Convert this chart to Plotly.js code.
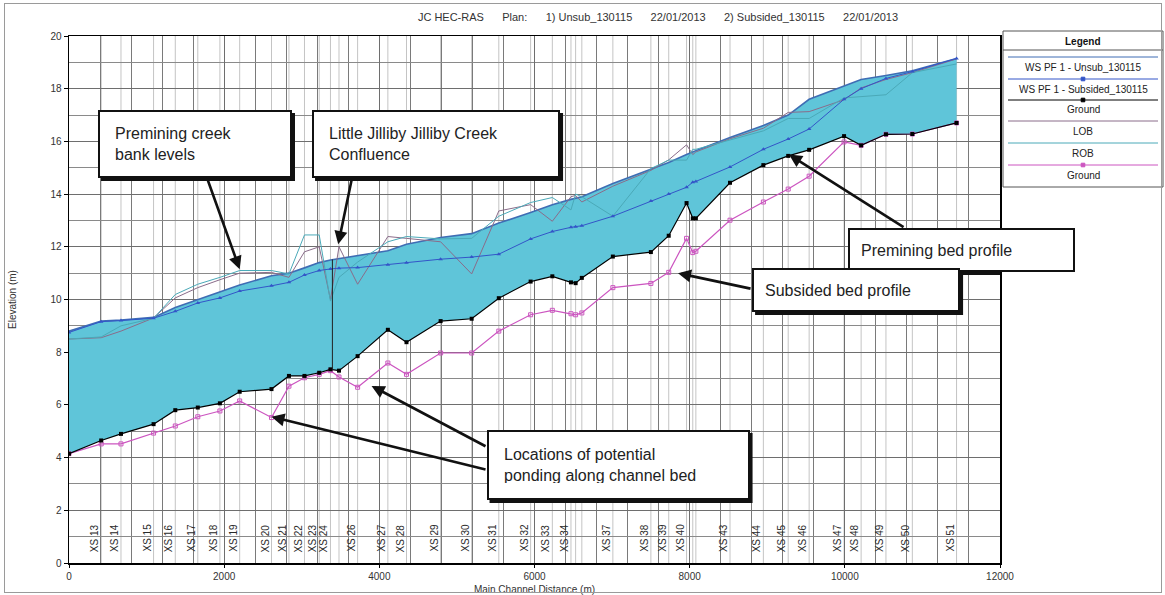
<!DOCTYPE html>
<html><head><meta charset="utf-8">
<script src="https://cdn.plot.ly/plotly-3.0.1.min.js"></script>
<style>
html,body{margin:0;padding:0;background:#fff;}
#chart{position:absolute;left:0;top:0;width:1165px;height:595px;}
#frame{position:absolute;left:4px;top:3px;width:1158px;height:590px;border:1px solid #9a9a9a;box-sizing:border-box;pointer-events:none;}
</style></head><body>
<div id="chart"></div>
<div id="frame"></div>
<script>
// ---------------- data ----------------
const xsNames = ['XS 12','XS 13','XS 14','XS 15','XS 16','XS 17','XS 18','XS 19','XS 20','XS 21',
  'XS 22','XS 23','XS 24','XS 25','XS 26','XS 27','XS 28','XS 29','XS 30','XS 31',
  'XS 32','XS 33','XS 34','XS 35','XS 36','XS 37','XS 38','XS 39','XS 40','XS 41',
  'XS 42','XS 43','XS 44','XS 45','XS 46','XS 47','XS 48','XS 49','XS 50','XS 51'];
const xsUnlabelled = ['XS 12','XS 25','XS 35','XS 36','XS 41','XS 42'];
const station = [0,415,670,1090,1370,1660,1945,2200,2610,2835,
  3035,3225,3370,3480,3720,4110,4350,4790,5190,5540,
  5950,6230,6470,6530,6610,7010,7500,7730,7960,8040,
  8080,8520,8950,9270,9540,9990,10210,10530,10870,11440];
const groundUnsub = [4.15,4.65,4.9,5.27,5.8,5.9,6.06,6.5,6.6,7.1,
  7.1,7.22,7.35,7.3,7.85,8.85,8.38,9.18,9.27,10.05,
  10.68,10.88,10.65,10.62,10.82,11.63,11.8,12.42,13.66,13.08,
  13.08,14.43,15.1,15.45,15.68,16.2,15.85,16.27,16.28,16.7];
const groundSub = [4.15,4.52,4.52,4.93,5.2,5.55,5.77,6.15,5.52,6.71,
  7.03,7.16,7.3,7.06,6.67,7.59,7.16,7.97,7.97,8.8,
  9.42,9.59,9.46,9.42,9.49,10.45,10.61,11.03,12.32,11.78,
  11.83,13.01,13.7,14.19,14.68,15.98,15.85,16.27,16.28,16.7];
const wsUnsub = [8.8,9.18,9.22,9.32,9.7,10.0,10.3,10.55,10.9,11.0,
  11.2,11.4,11.5,11.55,11.65,11.85,12.1,12.35,12.5,12.9,
  13.3,13.6,13.8,13.85,13.9,14.4,14.95,15.2,15.5,15.6,
  15.65,16.15,16.6,17.0,17.6,18.1,18.35,18.5,18.68,19.15];
const wsSub = [8.75,9.16,9.2,9.29,9.55,9.87,10.06,10.32,10.52,10.65,
  10.93,11.1,11.16,11.19,11.21,11.32,11.39,11.53,11.61,11.72,
  12.3,12.58,12.74,12.76,12.8,13.16,13.74,14.0,14.26,14.45,
  14.48,15.03,15.7,16.09,16.47,17.6,18.0,18.39,18.65,19.15];
const lob = [8.5,8.55,8.8,9.3,10.06,10.45,10.75,11.0,11.03,10.84,
  11.81,12.0,10.0,12.0,10.58,12.39,12.32,12.19,10.97,13.36,
  13.6,12.97,13.9,13.95,13.7,14.3,14.9,15.3,15.87,15.5,
  15.6,16.1,16.5,17.1,17.13,17.58,18.03,18.35,18.61,19.13];
const rob = [8.5,8.58,9.0,9.29,10.19,10.58,10.84,11.1,11.1,10.97,
  12.45,12.45,9.94,10.84,11.42,12.19,12.39,12.3,12.32,13.16,
  13.68,13.87,13.4,14.0,13.9,13.16,14.97,15.29,15.29,15.7,
  15.7,16.05,16.4,16.87,16.87,17.65,17.7,17.77,18.61,18.94];
const confluenceX = [3395, 3395];
const confluenceY = [7.33, 11.52];

const seriesNames = ['WS PF 1 - Unsub_130115','WS PF 1 - Subsided_130115','Ground','LOB','ROB','Ground'];
const xTickVals = [0,2000,4000,6000,8000,10000,12000];
const yTickVals = [0,2,4,6,8,10,12,14,16,18,20];
const titleParts = ['JC HEC-RAS','Plan:','1) Unsub_130115','22/01/2013','2) Subsided_130115','22/01/2013'];
const xTitle = 'Main Channel Distance (m)';
const yTitle = 'Elevation (m)';

// callouts: text, box centre (data units), box size (px), arrows [tailX, tailY, tipX, tipY]
const callouts = [
  {text:'Premining creek<br>bank levels', cx:1624, cy:15.9, w:194, h:68, arrows:[[1779,14.61,2200,11.15]]},
  {text:'Little Jilliby Jilliby Creek<br>Confluence', cx:4731, cy:15.9, w:248, h:68, arrows:[[3648,14.61,3470,12.1]]},
  {text:'Premining bed profile', cx:11498, cy:11.88, w:227, h:44, arrows:[[10776,12.71,9280,15.5]]},
  {text:'Subsided bed profile', cx:10145, cy:10.36, w:208, h:44, arrows:[[8804,10.4,7850,11.0]]},
  {text:'Locations of potential<br>ponding along channel bed', cx:7077, cy:3.72, w:263, h:70,
    arrows:[[5388,3.53,2610,5.55],[5388,4.4,3900,6.72]]}
];

// ---------------- style ----------------
const FONT = 'Liberation Sans, Arial, sans-serif';
const C = {fill:'#5fc5d9', wsU:'#3f6db4', wsS:'#3355c8', gU:'#000000', gS:'#cc55c0', lob:'#8a6c8a', rob:'#4aa9b8'};

const traces = [
  {x:station, y:groundUnsub, mode:'lines', line:{width:0,color:'rgba(0,0,0,0)'}, hoverinfo:'skip', showlegend:false},
  {x:station, y:wsUnsub, mode:'lines', fill:'tonexty', fillcolor:C.fill, line:{color:C.wsU,width:1.6}, name:seriesNames[0], showlegend:false},
  {x:station, y:lob, mode:'lines', line:{color:C.lob,width:1}, name:seriesNames[3], showlegend:false},
  {x:station, y:rob, mode:'lines', line:{color:C.rob,width:1}, name:seriesNames[4], showlegend:false},
  {x:station, y:wsSub, mode:'lines+markers', line:{color:C.wsS,width:1}, marker:{symbol:'triangle-up',size:4,color:C.wsS}, name:seriesNames[1], showlegend:false},
  {x:station, y:groundSub, mode:'lines+markers', line:{color:C.gS,width:1.2}, marker:{symbol:'square-open',size:4,color:C.gS}, name:seriesNames[5], showlegend:false},
  {x:station, y:groundUnsub, mode:'lines+markers', line:{color:C.gU,width:1.2}, marker:{symbol:'square',size:4,color:C.gU}, name:seriesNames[2], showlegend:false},
  {x:confluenceX, y:confluenceY, mode:'lines', line:{color:'#222',width:1}, hoverinfo:'skip', showlegend:false}
];

// plot area in px
const L=69, R=1000, T=36, B=563, W=1165, H=595;
const px2paperX = p => (p-L)/(R-L);
const px2paperY = p => (B-p)/(B-T);

const shapes = [];
const annotations = [];

// XS lines and labels
station.forEach((s,i)=>{
  if (i===0) return;
  shapes.push({type:'line', xref:'x', yref:'y', x0:s, x1:s, y0:0, y1:20, line:{color:'#c4c4c4',width:1}, layer:'below'});
  if (xsUnlabelled.indexOf(xsNames[i])<0){
    annotations.push({x:s, y:0.95, xref:'x', yref:'y', text:xsNames[i], showarrow:false, textangle:-90,
      xshift:-6, font:{family:FONT,size:10,color:'#2a2a2a'}});
  }
});

// callouts: arrows first, then shadow shape + text box
callouts.forEach(c=>{
  c.arrows.forEach(a=>{
    annotations.push({xref:'x', yref:'y', x:a[2], y:a[3], ax:a[0], ay:a[1], axref:'x', ayref:'y',
      text:' ', showarrow:true, arrowhead:2, arrowsize:1, arrowwidth:2.6, arrowcolor:'#111', standoff:0, startstandoff:0,
      font:{size:1}});
  });
  shapes.push({type:'rect', xref:'x', yref:'y', xsizemode:'pixel', ysizemode:'pixel', xanchor:c.cx, yanchor:c.cy,
    x0:-c.w/2+3, x1:c.w/2+3, y0:-c.h/2-3, y1:c.h/2-3, line:{width:0}, fillcolor:'#111', layer:'above'});
  const pad = c.h>50 ? 15 : 11;
  annotations.push({xref:'x', yref:'y', x:c.cx, y:c.cy, text:c.text, showarrow:false,
    width:c.w-2*pad-4, height:c.h-2*pad-4, borderpad:pad, borderwidth:2, bordercolor:'#111', bgcolor:'#fff',
    font:{family:FONT,size:16,color:'#222'}, align:'left', valign:'middle'});
});

// legend (HEC-RAS style)
const legLeft=1003, legRight=1163, legTop=31, legBottom=187;
shapes.push({type:'rect', xref:'paper', yref:'paper', x0:px2paperX(legLeft), x1:px2paperX(legRight), y0:px2paperY(legBottom), y1:px2paperY(legTop), line:{color:'#555',width:1}, fillcolor:'#fff'});
shapes.push({type:'line', xref:'paper', yref:'paper', x0:px2paperX(legLeft), x1:px2paperX(legRight), y0:px2paperY(50), y1:px2paperY(50), line:{color:'#555',width:1}});
const legCx = px2paperX((legLeft+legRight)/2);
annotations.push({xref:'paper', yref:'paper', x:legCx, y:px2paperY(41), xanchor:'center', yanchor:'middle',
  text:'<b>Legend</b>', showarrow:false, font:{family:FONT,size:10,color:'#111'}});
const legLineY = [57,79,100,121,143,165];
const legTextY = [67,89,110,131,153,175];
const legColors = [C.wsU, C.wsS, C.gU, C.lob, C.rob, C.gS];
const legMarker = [false, true, true, false, false, true];
seriesNames.forEach((n,i)=>{
  shapes.push({type:'line', xref:'paper', yref:'paper', x0:px2paperX(1008), x1:px2paperX(1158), y0:px2paperY(legLineY[i]), y1:px2paperY(legLineY[i]), line:{color:legColors[i],width:1}});
  if (legMarker[i]) shapes.push({type:'rect', xref:'paper', yref:'paper', xsizemode:'pixel', ysizemode:'pixel',
    xanchor:legCx, yanchor:px2paperY(legLineY[i]), x0:-1.8, x1:1.8, y0:-1.8, y1:1.8, line:{color:legColors[i],width:1}, fillcolor:legColors[i]});
  annotations.push({xref:'paper', yref:'paper', x:legCx, y:px2paperY(legTextY[i]), xanchor:'center', yanchor:'middle',
    text:n, showarrow:false, font:{family:FONT,size:10,color:'#222'}});
});

const nb = '\u00a0';
const titleText = titleParts.join(nb.repeat(6));

const layout = {
  width:W, height:H,
  margin:{l:L, r:W-R, t:T, b:H-B, pad:0},
  paper_bgcolor:'rgba(0,0,0,0)', plot_bgcolor:'#fff',
  font:{family:FONT, size:10, color:'#333'},
  title:{text:titleText, x:658/W, xanchor:'center', y:1-17/H, yanchor:'middle', yref:'container', xref:'container',
    font:{family:FONT,size:11,color:'#333'}},
  xaxis:{range:[0,12000], tickvals:xTickVals, ticktext:xTickVals.map(String), showgrid:true, gridcolor:'#6e6e6e', gridwidth:1,
    minor:{dtick:400, tick0:0, showgrid:true, gridcolor:'#7a7a7a', gridwidth:1, ticks:''},
    showline:true, mirror:true, linecolor:'#000', linewidth:1.5, ticks:'outside', ticklen:3, tickcolor:'#000',
    zeroline:false, tickfont:{family:FONT,size:10,color:'#333'},
    title:{text:xTitle, font:{family:FONT,size:10,color:'#333'}, standoff:6}},
  yaxis:{range:[0,20], tickvals:yTickVals, ticktext:yTickVals.map(String), showgrid:true, gridcolor:'#6e6e6e', gridwidth:1,
    minor:{dtick:1, tick0:0, showgrid:true, gridcolor:'#8a8a8a', gridwidth:1, ticks:''},
    showline:true, mirror:true, linecolor:'#000', linewidth:1.5, ticks:'outside', ticklen:4, tickcolor:'#000',
    zeroline:false, tickfont:{family:FONT,size:10,color:'#333'},
    title:{text:yTitle, font:{family:FONT,size:10,color:'#333'}, standoff:32}},
  shapes:shapes, annotations:annotations, showlegend:false
};

Plotly.newPlot('chart', traces, layout, {displayModeBar:false, staticPlot:true});
</script></body></html>
